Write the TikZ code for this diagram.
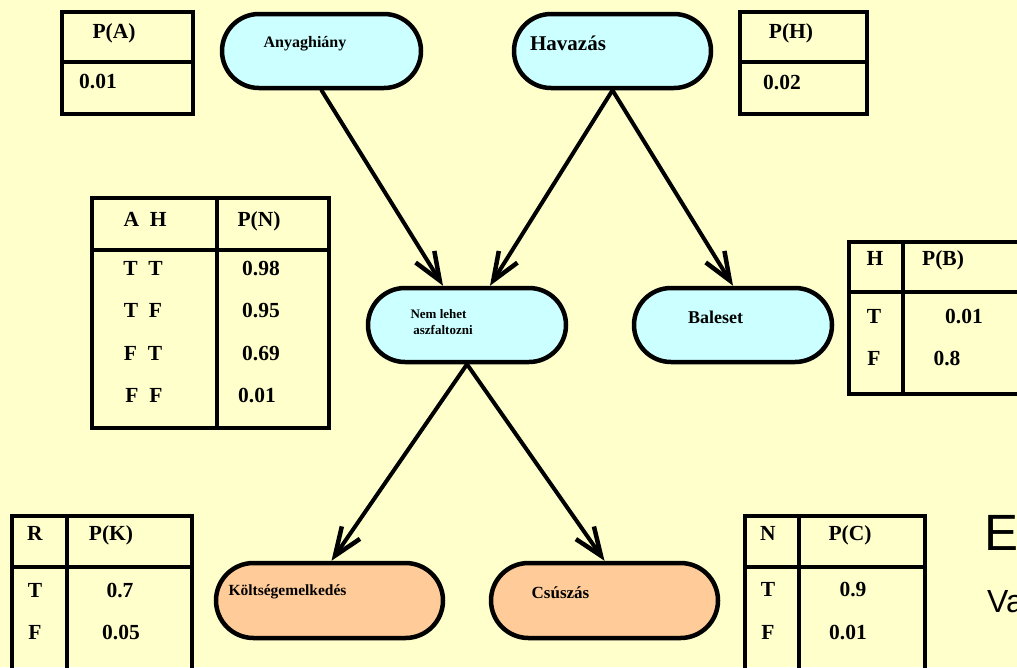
\documentclass[tikz,border=0pt]{standalone}
\usepackage{fontspec}
\setmainfont{Liberation Serif}
\newfontfamily\headsans{Liberation Sans}
\usetikzlibrary{shapes.misc,arrows.meta}

\definecolor{paper}{RGB}{255,255,204}
\definecolor{causefill}{RGB}{204,255,255}
\definecolor{effectfill}{RGB}{255,204,153}

\tikzset{
  event/.style={rounded rectangle, draw=black, line width=4.5pt, inner sep=0pt},
  cause/.style={event, fill=causefill},
  effect/.style={event, fill=effectfill},
  cpt/.style={draw=black, line width=4.5pt},
  cell/.style={inner sep=0pt, text height=14pt, text depth=0pt,
    font=\fontsize{21.5}{25}\selectfont\bfseries},
  lbl/.style={inner sep=0pt, anchor=base},
  link/.style={line width=4pt, line cap=round,
    -{Straight Barb[length=28pt,width=22pt,line width=4.5pt]}},
}

\begin{document}
\begin{tikzpicture}[x=1pt,y=-1pt]
  \useasboundingbox (0,0) rectangle (1017,667);
  \clip (0,0) rectangle (1017,667);
  \fill[paper] (0,0) rectangle (1017,667);

  % ---- event nodes ----
  \node[cause, minimum width=199pt, minimum height=74pt] (anya) at (321.5,51) {};
  \node[cause, minimum width=197pt, minimum height=74pt] (hava) at (612.5,51) {};
  \node[cause, minimum width=198pt, minimum height=74pt] (nem)  at (467,325) {};
  \node[cause, minimum width=198pt, minimum height=74pt] (bal)  at (733,325) {};
  \node[effect, minimum width=227pt, minimum height=75pt] (kolt) at (329.5,600.5) {};
  \node[effect, minimum width=227pt, minimum height=75pt] (csus) at (604.5,600.5) {};

  \node[lbl, font=\fontsize{16}{18}\selectfont\bfseries] (anyaT) at (305,47) {Anyaghiány};
  \node[lbl, font=\fontsize{21}{24}\selectfont\bfseries] (havaT) at (568,50) {Havazás};
  \node[lbl, font=\fontsize{13}{15}\selectfont\bfseries] (nemT1) at (438.5,318) {Nem lehet};
  \node[lbl, font=\fontsize{13}{15}\selectfont\bfseries] (nemT2) at (443,334) {aszfaltozni};
  \node[lbl, font=\fontsize{18}{20}\selectfont\bfseries] (balT)  at (715.5,323) {Baleset};
  \node[lbl, font=\fontsize{15.5}{18}\selectfont\bfseries] (koltT) at (287.5,595) {Költségemelkedés};
  \node[lbl, font=\fontsize{17}{19}\selectfont\bfseries] (csusT) at (560.5,598) {Csúszás};

  % ---- dependencies ----
  \draw[link] (anya.south) -- ([xshift=-24pt]nem.north);
  \draw[link] (hava.south) -- ([xshift=23pt]nem.north);
  \draw[link] (hava.south) -- (bal.north);
  \draw[link] (nem.south) -- ([xshift=2pt]kolt.north);
  \draw[link] (nem.south) -- (csus.north);

  % ---- table P(A) ----
  \draw[cpt] (62,12) rectangle (193,114);
  \draw[cpt] (62,62) -- (193,62);
  \node[cell] (pa1) at (114,31) {P(A)};
  \node[cell] (pa2) at (98,81) {0.01};

  % ---- table P(H) ----
  \draw[cpt] (740,12) rectangle (867,114);
  \draw[cpt] (740,62) -- (867,62);
  \node[cell] (ph1) at (791,31) {P(H)};
  \node[cell] (ph2) at (782,82) {0.02};

  % ---- table P(N) ----
  \draw[cpt] (92,198) rectangle (329,428);
  \draw[cpt] (92,250) -- (329,250);
  \draw[cpt] (217,198) -- (217,428);
  \node[cell] (pn0a) at (145,219) {A\ \ H};
  \node[cell] (pn0b) at (259,219) {P(N)};
  \node[cell] (pn1a) at (143,268) {T\ \ T};
  \node[cell] (pn1b) at (261,268) {0.98};
  \node[cell] (pn2a) at (143,310) {T\ \ F};
  \node[cell] (pn2b) at (261,310) {0.95};
  \node[cell] (pn3a) at (143,353) {F\ \ T};
  \node[cell] (pn3b) at (261,353) {0.69};
  \node[cell] (pn4a) at (144,395) {F\ \ F};
  \node[cell] (pn4b) at (257,395) {0.01};

  % ---- table P(B) ----
  \draw[cpt] (849,242) rectangle (1040,394);
  \draw[cpt] (849,292) -- (1040,292);
  \draw[cpt] (903,242) -- (903,394);
  \node[cell] (pb0a) at (875,258) {H};
  \node[cell] (pb0b) at (943,258) {P(B)};
  \node[cell] (pb1a) at (874,316) {T};
  \node[cell] (pb1b) at (964,316) {0.01};
  \node[cell] (pb2a) at (874,358) {F};
  \node[cell] (pb2b) at (947,358) {0.8};

  % ---- table P(K) ----
  \draw[cpt] (12,516) rectangle (192,700);
  \draw[cpt] (12,567) -- (192,567);
  \draw[cpt] (67,516) -- (67,700);
  \node[cell] (pk0a) at (35,533) {R};
  \node[cell] (pk0b) at (111,533) {P(K)};
  \node[cell] (pk1a) at (35,590) {T};
  \node[cell] (pk1b) at (120,590) {0.7};
  \node[cell] (pk2a) at (35,632) {F};
  \node[cell] (pk2b) at (121,632) {0.05};

  % ---- table P(C) ----
  \draw[cpt] (745,516) rectangle (925,700);
  \draw[cpt] (745,567) -- (925,567);
  \draw[cpt] (799,516) -- (799,700);
  \node[cell] (pc0a) at (768,533) {N};
  \node[cell] (pc0b) at (850,533) {P(C)};
  \node[cell] (pc1a) at (768,589) {T};
  \node[cell] (pc1b) at (853,589) {0.9};
  \node[cell] (pc2a) at (768,632) {F};
  \node[cell] (pc2b) at (848,632) {0.01};

  % ---- heading text running off the right edge ----
  \node[inner sep=0pt, anchor=base west, font=\headsans\fontsize{51}{56}\selectfont] (headE) at (984,550) {E};
  \node[inner sep=0pt, anchor=base west, font=\headsans\fontsize{32}{36}\selectfont] (headV) at (987,612) {Va};
\end{tikzpicture}
\end{document}
